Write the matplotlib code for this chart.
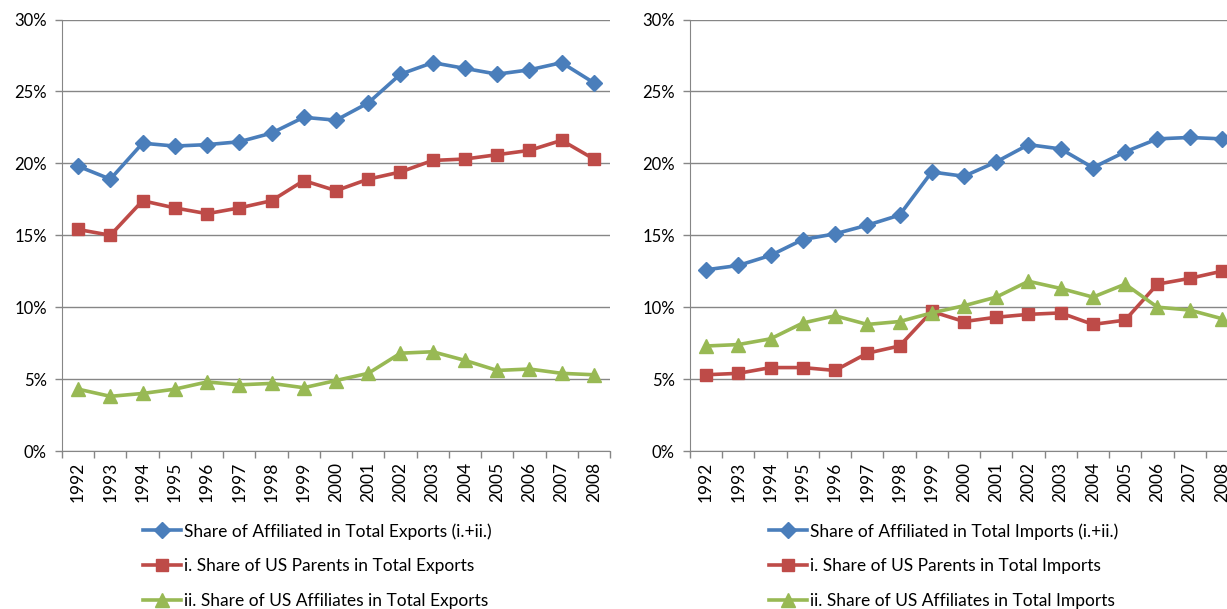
import numpy as np
import matplotlib.pyplot as plt
from matplotlib.ticker import FuncFormatter

plt.rcParams['font.family'] = ['Lato', 'DejaVu Sans']

anos = [str(a) for a in range(1992, 2009)]

# exportacoes (%)
exp_total = [19.8, 18.9, 21.4, 21.2, 21.3, 21.5, 22.1, 23.2, 23.0, 24.2, 26.2, 27.0, 26.6, 26.2, 26.5, 27.0, 25.6]
exp_parents = [15.4, 15.0, 17.4, 16.9, 16.5, 16.9, 17.4, 18.8, 18.1, 18.9, 19.4, 20.2, 20.3, 20.6, 20.9, 21.6, 20.3]
exp_affil = [4.3, 3.8, 4.0, 4.3, 4.8, 4.6, 4.7, 4.4, 4.9, 5.4, 6.8, 6.9, 6.3, 5.6, 5.7, 5.4, 5.3]

# importacoes (%)
imp_total = [12.6, 12.9, 13.6, 14.7, 15.1, 15.7, 16.4, 19.4, 19.1, 20.1, 21.3, 21.0, 19.7, 20.8, 21.7, 21.8, 21.7]
imp_parents = [5.3, 5.4, 5.8, 5.8, 5.6, 6.8, 7.3, 9.7, 9.0, 9.3, 9.5, 9.6, 8.8, 9.1, 11.6, 12.0, 12.5]
imp_affil = [7.3, 7.4, 7.8, 8.9, 9.4, 8.8, 9.0, 9.6, 10.1, 10.7, 11.8, 11.3, 10.7, 11.6, 10.0, 9.8, 9.2]

labels_exp = ['Share of Affiliated in Total Exports (i.+ii.)',
              'i. Share of US Parents in Total Exports',
              'ii. Share of US Affiliates in Total Exports']
labels_imp = ['Share of Affiliated in Total Imports (i.+ii.)',
              'i. Share of US Parents in Total Imports',
              'ii. Share of US Affiliates in Total Imports']

cores = ['#4A7EBB', '#BE4B48', '#98B954']
marcadores = [('D', 8), ('s', 9), ('^', 10)]
cinza = '#868686'

W, H = 1227, 609
fig = plt.figure(figsize=(W / 100, H / 100), dpi=100)


def painel(x0, x1, series, labels, leg_x):
    ax = fig.add_axes([x0 / W, 1 - 451 / H, (x1 - x0) / W, (451 - 19.5) / H])
    x = np.arange(len(anos))
    for s, c, (m, ms), lab in zip(series, cores, marcadores, labels):
        ax.plot(x, s, color=c, lw=2.6, marker=m, markersize=ms, label=lab)
    ax.set_xlim(-0.5, len(anos) - 0.5)
    ax.set_ylim(0, 30)
    ax.set_yticks(range(0, 31, 5))
    ax.yaxis.set_major_formatter(FuncFormatter(lambda v, p: f'{v:.0f}%'))
    ax.set_xticks(x)
    ax.set_xticklabels(anos, rotation=90, fontsize=12.5)
    ax.set_xticks(np.arange(-0.5, len(anos)), minor=True)
    ax.tick_params(axis='x', which='major', length=0, pad=8)
    ax.tick_params(axis='x', which='minor', length=5, color=cinza, width=1)
    ax.tick_params(axis='y', length=5, color=cinza, width=1, labelsize=12, pad=6)
    ax.grid(axis='y', color=cinza, lw=1)
    ax.set_axisbelow(True)
    for lado in ['top', 'right']:
        ax.spines[lado].set_visible(False)
    for lado in ['left', 'bottom']:
        ax.spines[lado].set_color(cinza)
    ax.legend(loc='upper left', bbox_to_anchor=(leg_x / W, 1 - 523 / H), bbox_transform=fig.transFigure,
              frameon=False, fontsize=12.5, handlelength=2.2, handletextpad=0.15, labelspacing=1.08,
              borderaxespad=0, borderpad=0)
    return ax


painel(62, 610, [exp_total, exp_parents, exp_affil], labels_exp, 143)
painel(690, 1238, [imp_total, imp_parents, imp_affil], labels_imp, 769)

plt.savefig('out.png', dpi=100)
